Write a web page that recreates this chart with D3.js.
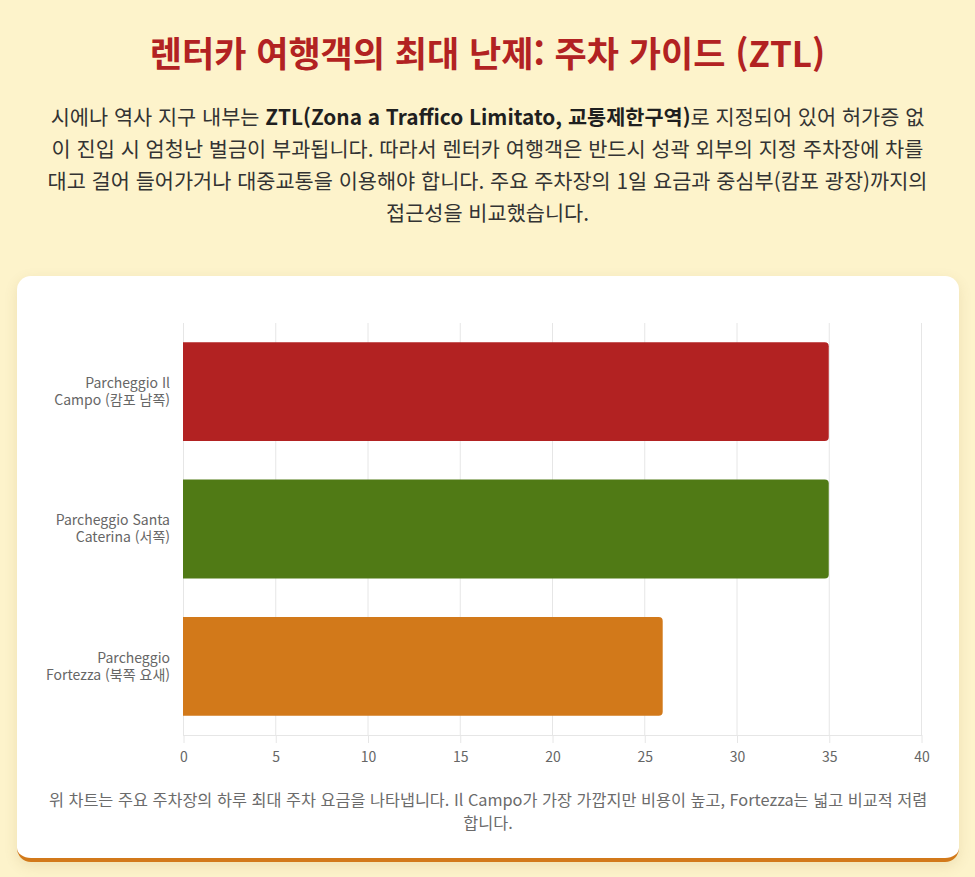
<!DOCTYPE html>
<html lang="ko">
<head>
<meta charset="utf-8">
<script src="https://cdn.jsdelivr.net/npm/d3@7"></script>
<style>
  html, body { margin: 0; padding: 0; }
  body {
    width: 975px; height: 877px; overflow: hidden;
    background: #fdf3cb;
    font-family: "Noto Sans CJK KR", "Noto Sans", sans-serif;
  }
  h1 {
    position: absolute; left: 0; top: 25px; width: 975px; margin: 0;
    text-align: center; font-size: 35px; font-weight: 700; color: #b22222;
    line-height: 54px; white-space: nowrap;
  }
  .intro {
    position: absolute; left: 10px; top: 100px; width: 955px; margin: 0;
    text-align: center; font-size: 20.8px; line-height: 32px; color: #333;
    white-space: nowrap;
  }
  .intro b { color: #1f1f1f; }
  .card {
    position: absolute; left: 17px; top: 276px; width: 942px; height: 582px;
    background: #fff; border-radius: 14px;
    border-bottom: 4px solid #d2791a;
    box-shadow: 0 4px 14px rgba(120, 90, 0, 0.12);
  }
  .caption {
    position: absolute; left: 0; top: 512px; width: 942px; margin: 0;
    text-align: center; font-size: 16.3px; line-height: 23px; color: #6b6b6b;
    white-space: nowrap;
  }
</style>
</head>
<body>
<h1>렌터카 여행객의 최대 난제: 주차 가이드 (ZTL)</h1>
<p class="intro">시에나 역사 지구 내부는 <b>ZTL(Zona a Traffico Limitato, 교통제한구역)</b>로 지정되어 있어 허가증 없<br>이 진입 시 엄청난 벌금이 부과됩니다. 따라서 렌터카 여행객은 반드시 성곽 외부의 지정 주차장에 차를<br>대고 걸어 들어가거나 대중교통을 이용해야 합니다. 주요 주차장의 1일 요금과 중심부(캄포 광장)까지의<br>접근성을 비교했습니다.</p>
<div class="card">
  <svg id="chart" width="942" height="500"></svg>
  <p class="caption">위 차트는 주요 주차장의 하루 최대 주차 요금을 나타냅니다. Il Campo가 가장 가깝지만 비용이 높고, Fortezza는 넓고 비교적 저렴<br>합니다.</p>
</div>
<script>
// parking lots, daily max fee (EUR)
const lotLabels = [
  ["Parcheggio Il", "Campo (캄포 남쪽)"],
  ["Parcheggio Santa", "Caterina (서쪽)"],
  ["Parcheggio", "Fortezza (북쪽 요새)"]
];
const dailyFee = [35, 35, 26];
const barColors = ["#b22222", "#507a15", "#d2791a"];
const xTicks = [0, 5, 10, 15, 20, 25, 30, 35, 40];

const svg = d3.select("#chart");
const plot = { left: 166, right: 904, top: 47, bottom: 459 };

const x = d3.scaleLinear().domain([0, 40]).range([plot.left, plot.right]);
const y = d3.scaleBand()
  .domain(d3.range(lotLabels.length))
  .range([plot.top, plot.bottom])
  .paddingInner(0.28)
  .paddingOuter(0.14);

// vertical grid lines
svg.append("g")
  .selectAll("line")
  .data(xTicks)
  .join("line")
  .attr("x1", d => x(d) + 0.5).attr("x2", d => x(d) + 0.5)
  .attr("y1", plot.top).attr("y2", plot.bottom)
  .attr("stroke", "#e6e6e6").attr("stroke-width", 1);

svg.append("line")
  .attr("x1", plot.left).attr("x2", plot.right + 1)
  .attr("y1", plot.bottom + 0.5).attr("y2", plot.bottom + 0.5)
  .attr("stroke", "#e6e6e6");

// x axis: ticks + labels
const xAxis = d3.axisBottom(x).tickValues(xTicks).tickSize(8).tickPadding(9);
svg.append("g")
  .attr("transform", `translate(0.5,${plot.bottom})`)
  .call(xAxis)
  .call(g => g.select(".domain").remove())
  .call(g => g.selectAll(".tick line").attr("stroke", "#e6e6e6"))
  .call(g => g.selectAll("text")
    .attr("fill", "#666").attr("font-size", 14)
    .attr("font-family", "'Noto Sans CJK KR', sans-serif"));

// bars with rounded right end
function barPath(x0, x1, y0, h, r) {
  r = Math.min(r, (x1 - x0) / 2);
  return `M${x0},${y0}H${x1 - r}Q${x1},${y0} ${x1},${y0 + r}` +
         `V${y0 + h - r}Q${x1},${y0 + h} ${x1 - r},${y0 + h}H${x0}Z`;
}

svg.append("g")
  .selectAll("path")
  .data(dailyFee)
  .join("path")
  .attr("d", (d, i) => barPath(x(0), x(d), y(i), y.bandwidth(), 4))
  .attr("fill", (d, i) => barColors[i]);

// y labels (two lines each)
const yLab = svg.append("g")
  .selectAll("text")
  .data(lotLabels)
  .join("text")
  .attr("text-anchor", "end")
  .attr("fill", "#666")
  .attr("font-size", 14)
  .attr("font-family", "'Noto Sans CJK KR', sans-serif")
  .attr("transform", (d, i) => `translate(${plot.left - 13},${y(i) + y.bandwidth() / 2})`);

yLab.selectAll("tspan")
  .data(d => d.map((t, k) => ({ t, k, n: d.length })))
  .join("tspan")
  .attr("x", 0)
  .attr("y", d => (d.k - (d.n - 1) / 2) * 17)
  .attr("dy", "0.35em")
  .text(d => d.t);
</script>
</body>
</html>
